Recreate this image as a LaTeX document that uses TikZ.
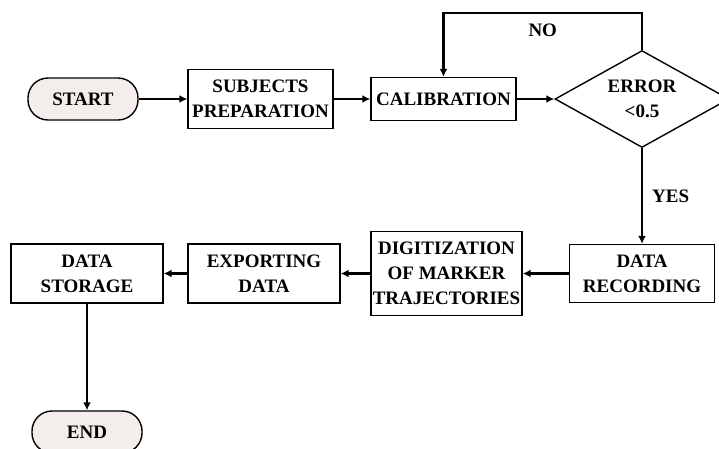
\documentclass[tikz,border=0pt]{standalone}
\usepackage{fontspec}
\setmainfont{Liberation Serif}
\usetikzlibrary{shapes.geometric, arrows.meta}
\tikzset{>={Latex[length=8pt,width=8pt]}}
\definecolor{termfill}{RGB}{243,238,235}
\tikzset{
	box/.style={draw, line width=1.4pt, align=center, inner sep=0pt, font=\bfseries\fontsize{19}{25}\selectfont},
	term/.style={box, fill=termfill, rounded corners=20pt, minimum width=110pt, minimum height=42pt},
	check/.style={box, diamond, aspect=1.8, minimum width=174pt, minimum height=97pt},
	flow/.style={->, line width=2.4pt},
	lbl/.style={inner sep=0pt, font=\bfseries\fontsize{19}{22}\selectfont}
}

\begin{document}
\begin{tikzpicture}[x=1pt, y=-1pt]
	\clip (0,0) rectangle (719,448);
	% top row
	\node[term](start) at (83, 99){START};
	\node[box, minimum width=145pt, minimum height=59pt](prep) at (260.5, 99){SUBJECTS\\PREPARATION};
	\node[box, minimum width=145pt, minimum height=43pt](calib) at (443.5, 99){CALIBRATION};
	\node[check](err) at (642, 99){ERROR\\<0.5};
	% bottom row
	\node[box, minimum width=145pt, minimum height=58pt](rec) at (642, 273.5){DATA\\RECORDING};
	\node[box, minimum width=151pt, minimum height=84pt](digit) at (446.5, 273.5){DIGITIZATION\\OF MARKER\\TRAJECTORIES};
	\node[box, minimum width=152pt, minimum height=59pt](export) at (264, 273.5){EXPORTING\\DATA};
	\node[box, minimum width=152pt, minimum height=59pt](store) at (87, 273.5){DATA\\STORAGE};
	\node[term](stop) at (87, 432){END};
	% flow
	\draw[flow](start)--(prep);
	\draw[flow](prep)--(calib);
	\draw[flow](calib)--(err);
	\draw[flow](err.north)--++(0, -37)-|(calib.north)node[lbl, pos=0.25, below=10pt]{NO};
	\draw[flow](err.south)--(rec.north)node[lbl, midway, right=9pt]{YES};
	\draw[flow](rec)--(digit);
	\draw[flow](digit)--(export);
	\draw[flow](export)--(store);
	\draw[flow](store)--(stop);
\end{tikzpicture}
\end{document}
